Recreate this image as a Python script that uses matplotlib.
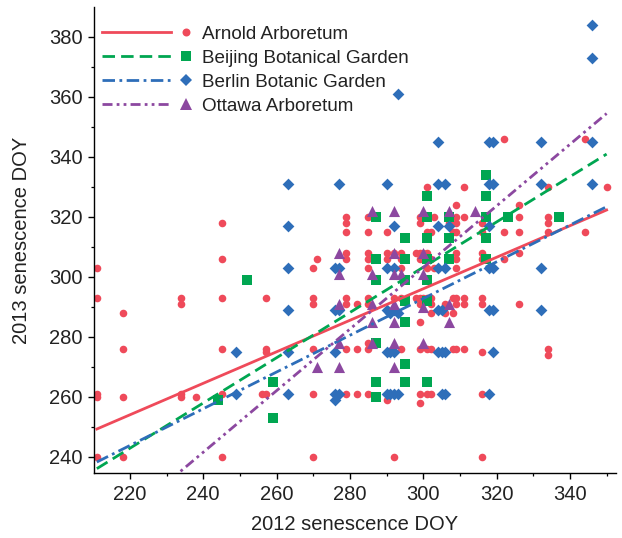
import numpy as np
import matplotlib
matplotlib.use('Agg')
import matplotlib.pyplot as plt
from matplotlib.lines import Line2D
from matplotlib.legend_handler import HandlerBase

plt.rcParams['font.family'] = ['Liberation Sans', 'DejaVu Sans']

# ---- data ----
arnold_x = [211, 211, 211, 211, 211, 218, 218, 218, 218, 234, 234, 234, 234, 238,
            245, 245, 245, 245, 245, 245, 257, 257, 257, 256, 257,
            271, 270, 270, 270, 270, 270, 270,
            279, 279, 279, 279, 279, 279, 279, 279, 279, 282, 282, 282,
            285, 285, 285, 285, 285, 285, 285, 285, 285, 285,
            290, 290, 290, 290, 292, 292, 292, 294, 294, 294, 294, 294, 298, 298,
            299, 299, 299, 299, 299, 299, 299, 299, 299, 299, 300, 300,
            301, 301, 301, 301, 301, 301, 301, 301,
            302, 302, 302, 302, 302, 302, 302, 303, 303, 306, 306, 306, 307, 307,
            308, 308, 308, 308,
            309, 309, 309, 309, 309, 309, 309, 309, 309, 309,
            311, 311, 311, 311, 311,
            316, 316, 316, 316, 316, 316, 316, 316, 316,
            322, 322, 322, 326, 326, 326, 326, 326,
            334, 334, 334, 334, 334, 334, 344, 344, 350]
arnold_y = [303, 293, 261, 260, 240, 288, 276, 260, 240, 293, 291, 261, 260, 260,
            318, 306, 293, 276, 261, 240, 293, 276, 275, 261, 261,
            306, 303, 293, 291, 276, 261, 240,
            320, 318, 315, 308, 306, 293, 291, 276, 261, 291, 276, 261,
            320, 315, 308, 306, 303, 293, 291, 278, 276, 261,
            315, 308, 306, 259, 308, 293, 240, 308, 306, 303, 293, 276, 308, 293,
            320, 318, 308, 306, 293, 291, 285, 276, 261, 258, 308, 293,
            330, 320, 315, 308, 303, 293, 276, 261,
            315, 306, 293, 291, 288, 276, 261, 320, 303, 291, 288, 261, 320, 318,
            315, 293, 288, 276,
            324, 320, 318, 315, 308, 306, 303, 293, 291, 276,
            330, 320, 293, 291, 276,
            318, 315, 308, 306, 293, 291, 275, 261, 240,
            346, 315, 306, 324, 320, 315, 308, 291,
            330, 320, 318, 315, 276, 274, 346, 315, 330]

beijing_x = [244, 252, 259, 259,
             287, 287, 287, 287, 287, 287,
             295, 295, 295, 295, 295, 295, 295,
             301, 301, 301, 301, 301, 301, 301,
             307, 307, 307,
             317, 317, 317, 317, 317, 323, 337]
beijing_y = [259, 299, 265, 253,
             320, 306, 299, 278, 265, 260,
             313, 306, 299, 292, 285, 271, 265,
             327, 320, 313, 306, 299, 292, 265,
             320, 313, 306,
             334, 327, 320, 313, 306, 320, 320]

berlin_x = [249, 249, 263, 263, 263, 263, 263, 263,
            276, 277, 276, 277, 276, 276, 277, 276, 277,
            290, 292, 290, 292, 290, 291, 292, 293, 290, 291, 292,
            290, 291, 292, 293, 293,
            304, 304, 306, 304, 307, 304, 306, 304, 305, 304, 305, 306, 305, 306,
            318, 319, 318, 319, 318, 318, 319, 318, 319, 319, 318,
            332, 332, 332, 332, 346, 346, 346, 346]
berlin_y = [275, 261, 331, 317, 303, 289, 275, 261,
            303, 303, 289, 289, 275, 261, 261, 259, 331,
            331, 317, 303, 303, 289, 288, 289, 288, 275, 275, 275,
            261, 261, 261, 261, 361,
            345, 331, 331, 317, 317, 303, 303, 289, 289, 275, 275, 275, 261, 261,
            345, 345, 331, 331, 317, 303, 303, 289, 289, 275, 261,
            345, 331, 303, 289, 384, 373, 345, 331]

ottawa_x = [271, 277, 277, 277, 277, 277,
            286, 286, 286, 286, 286,
            292, 292, 292, 292, 292, 292, 292, 294,
            300, 300, 300, 300, 300,
            307, 307, 307, 314]
ottawa_y = [270, 308, 301, 291, 278, 270,
            322, 301, 291, 285, 278,
            322, 308, 301, 291, 285, 278, 270, 301,
            322, 308, 301, 290, 278,
            322, 291, 285, 322]

# fitted lines (value at x=211, slope)
fit_x = [211, 350]
fit_start = [249.3, 236.1, 238.3, 211.8]
fit_slope = [0.525, 0.754, 0.612, 1.026]

names = ['Arnold Arboretum', 'Beijing Botanical Garden',
         'Berlin Botanic Garden', 'Ottawa Arboretum']
colors = ['#ef4a5a', '#00a651', '#2e6eb9', '#8c48a0']
markers = ['o', 's', 'D', '^']
msizes = [30, 42, 36, 64]
styles = ['-', (0, (4.5, 2.2)), (0, (4.5, 1.6, 1, 1.6)), (0, (3.6, 1.5, 1, 1.5, 1, 1.5))]

xs = [arnold_x, beijing_x, berlin_x, ottawa_x]
ys = [arnold_y, beijing_y, berlin_y, ottawa_y]


class LineThenMarker(HandlerBase):
    def create_artists(self, legend, orig_handle, xdescent, ydescent,
                       width, height, fontsize, trans):
        ln, mk = orig_handle
        y = height / 2 - ydescent
        l = Line2D([-xdescent, -xdescent + width * 0.775], [y, y])
        l.update_from(ln)
        l.set_transform(trans)
        m = Line2D([-xdescent + width * 0.935], [y])
        m.update_from(mk)
        m.set_linestyle('none')
        m.set_transform(trans)
        return [l, m]


fig = plt.figure(figsize=(6.22, 5.38), dpi=100)
ax = fig.add_axes([0.151, 0.120, 0.839, 0.8675])

handles = []
for i in range(4):
    ax.scatter(xs[i], ys[i], s=msizes[i], marker=markers[i], color=colors[i],
               linewidths=0, zorder=2 + i * 0.1)
for i in range(4):
    fx = np.array(fit_x, dtype=float)
    fy = fit_start[i] + fit_slope[i] * (fx - fit_x[0])
    ln, = ax.plot(fx, fy, color=colors[i], linestyle=styles[i], linewidth=2.0, zorder=3)
    mk = Line2D([], [], marker=markers[i], color=colors[i], linestyle='none',
                markersize=np.sqrt(msizes[i]) * 1.05, markeredgewidth=0)
    handles.append((ln, mk))

ax.set_xlim(210.2, 352.5)
ax.set_ylim(234.5, 390)
ax.set_xticks(np.arange(220, 341, 20))
ax.set_xticks(np.arange(220, 351, 10), minor=True)
ax.set_yticks(np.arange(240, 381, 20))
ax.set_yticks(np.arange(240, 390, 10), minor=True)

for s in ['top', 'right']:
    ax.spines[s].set_visible(False)
for s in ['left', 'bottom']:
    ax.spines[s].set_linewidth(1.0)
ax.tick_params(which='major', direction='out', length=4.5, width=1.0,
               labelsize=14.5, labelcolor='#222222')
ax.tick_params(which='minor', direction='out', length=2.2, width=0.9)

ax.set_xlabel('2012 senescence DOY', fontsize=14.5, color='#222222', labelpad=8)
ax.set_ylabel('2013 senescence DOY', fontsize=14.5, color='#222222', labelpad=13)

ax.legend(handles, names, handler_map={tuple: LineThenMarker()},
          loc='upper left', bbox_to_anchor=(0.0148, 0.96), frameon=False,
          borderpad=0, borderaxespad=0, handlelength=4.75, handletextpad=0.55,
          labelspacing=0.36, fontsize=13.6, labelcolor='#222222')

fig.savefig('out.png', dpi=100)
